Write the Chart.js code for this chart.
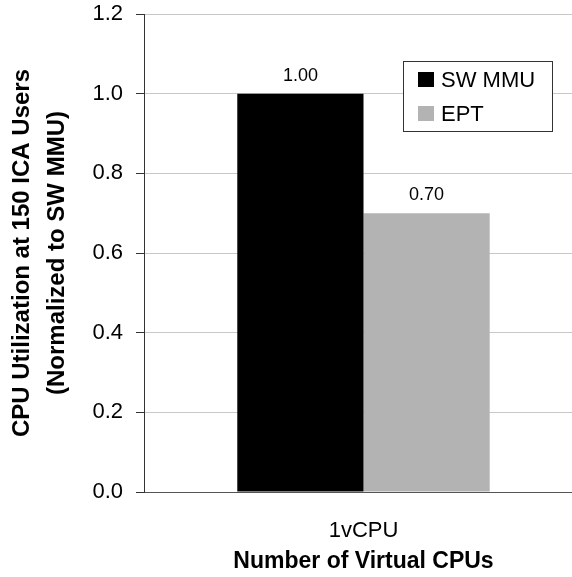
<!DOCTYPE html>
<html>
<head>
<meta charset="utf-8">
<script src="https://cdn.jsdelivr.net/npm/chart.js@4.4.0/dist/chart.umd.min.js"></script>
<style>
  html, body { margin: 0; padding: 0; background: #fff; overflow: hidden; }
  #wrap { position: relative; width: 583px; height: 577px; }
</style>
</head>
<body>
<div id="wrap"><canvas id="cpuChart"></canvas></div>
<script>
// data
const categories = ["1vCPU"];
const swMmu = [1.0];
const ept = [0.7];
const yTicks = [0, 0.2, 0.4, 0.6, 0.8, 1.0, 1.2];

const FONT = "'Liberation Sans', Arial, sans-serif";

// value labels above each bar
const valueLabels = {
  id: "valueLabels",
  afterDatasetsDraw(chart) {
    const ctx = chart.ctx;
    ctx.save();
    ctx.font = "18px " + FONT;
    ctx.fillStyle = "#000";
    ctx.textAlign = "center";
    ctx.textBaseline = "alphabetic";
    chart.data.datasets.forEach((ds, i) => {
      chart.getDatasetMeta(i).data.forEach((bar, j) => {
        ctx.fillText(ds.data[j].toFixed(2), bar.x, bar.y - 13);
      });
    });
    ctx.restore();
  },
};

// boxed legend inside the plot
const boxLegend = {
  id: "boxLegend",
  afterDraw(chart) {
    const ctx = chart.ctx;
    const x = 403, y = 61, w = 149, h = 70;
    ctx.save();
    ctx.fillStyle = "#fff";
    ctx.fillRect(x, y, w, h);
    ctx.strokeStyle = "#333";
    ctx.lineWidth = 1;
    ctx.strokeRect(x + 0.5, y + 0.5, w, h);
    ctx.font = "22px " + FONT;
    ctx.textBaseline = "alphabetic";
    chart.data.datasets.forEach((ds, i) => {
      const rowY = y + 26 + i * 34;
      ctx.fillStyle = ds.backgroundColor;
      ctx.fillRect(x + 15, rowY - 15, 16, 15);
      ctx.fillStyle = "#000";
      ctx.fillText(ds.label, x + 38, rowY);
    });
    ctx.restore();
  },
};

new Chart(document.getElementById("cpuChart"), {
  type: "bar",
  data: {
    labels: categories,
    datasets: [
      { label: "SW MMU", data: swMmu, backgroundColor: "#000000" },
      { label: "EPT", data: ept, backgroundColor: "#b3b3b3" },
    ],
  },
  options: {
    responsive: true,
    maintainAspectRatio: false,
    animation: false,
    layout: { padding: { left: 0, right: 0, top: 14, bottom: 0 } },
    datasets: { bar: { barPercentage: 1, categoryPercentage: 0.575 } },
    plugins: {
      legend: { display: false },
      tooltip: { enabled: false },
    },
    scales: {
      x: {
        grid: { display: false, drawTicks: false },
        border: { color: "#555", width: 1 },
        ticks: { color: "#000", font: { family: FONT, size: 22 }, padding: 26 },
        title: {
          display: true,
          text: "Number of Virtual CPUs",
          color: "#000",
          font: { family: FONT, size: 23, weight: "bold" },
          padding: { top: 0, bottom: 2 },
        },
        afterFit(scale) { scale.height = 85; },
      },
      y: {
        min: 0,
        max: 1.2,
        afterBuildTicks(scale) { scale.ticks = yTicks.map(v => ({ value: v })); },
        grid: { color: "#c8c8c8", tickColor: "#333", tickLength: 8 },
        border: { color: "#333", width: 1 },
        ticks: {
          color: "#000",
          font: { family: FONT, size: 22 },
          padding: 13,
          callback: v => Number(v).toFixed(1),
        },
        title: {
          display: true,
          text: ["CPU Utilization at 150 ICA Users", "(Normalized to SW MMU)"],
          color: "#000",
          font: { family: FONT, size: 24, weight: "bold", lineHeight: 1.46 },
          padding: { top: 5, bottom: 0 },
        },
        afterFit(scale) {
          scale.width = 144;
          scale.paddingTop = 0;
          scale.paddingBottom = 0;
        },
      },
    },
  },
  plugins: [valueLabels, boxLegend],
});
</script>
</body>
</html>
